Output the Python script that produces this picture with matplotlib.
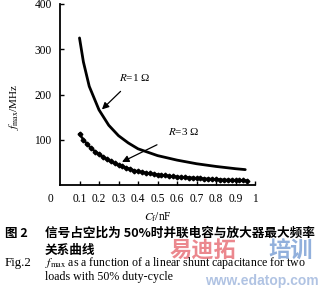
import matplotlib
matplotlib.use("Agg")
import matplotlib.pyplot as plt

plt.rcParams["mathtext.fontset"] = "stix"

# ---- data ----
c_r1 = [0.1, 0.12, 0.15, 0.2, 0.25, 0.3, 0.35, 0.4, 0.5, 0.6, 0.7, 0.8, 0.9, 0.95]
f_r1 = [325, 272, 218, 166, 132, 109, 93, 80, 65, 55, 47, 41, 36, 34]

c_r3 = [0.10, 0.12, 0.14, 0.16, 0.18, 0.20, 0.22, 0.24, 0.26, 0.28, 0.30,
        0.32, 0.34, 0.36, 0.38, 0.40, 0.42, 0.44, 0.46, 0.48, 0.50, 0.52,
        0.54, 0.56, 0.58, 0.60, 0.62, 0.64, 0.66, 0.68, 0.70, 0.72, 0.74,
        0.76, 0.78, 0.80, 0.82, 0.84, 0.86, 0.88, 0.90, 0.92, 0.94, 0.96]
f_r3 = [113, 100, 90, 81, 74, 68, 62, 57, 52, 48, 44,
        41, 38, 35, 32, 30, 28.5, 27, 25.5, 24, 23, 22,
        21, 20, 19, 18, 17.5, 17, 16.5, 16, 15, 14.5, 14,
        13.5, 13, 12.5, 12, 11.5, 11, 11, 10.5, 10, 10, 9.5]

x_ticks = [0.1, 0.2, 0.3, 0.4, 0.5, 0.6, 0.7, 0.8, 0.9, 1.0]
x_tick_labels = ["0.1", "0.2", "0.3", "0.4", "0.5", "0.6", "0.7", "0.8", "0.9", "1"]
y_ticks = [100, 200, 300, 400]
y_tick_labels = ["100", "200", "300", "400"]

serif = ["Liberation Serif", "DejaVu Serif"]
cjk = ["Noto Sans CJK SC", "DejaVu Sans"]

fig = plt.figure(figsize=(3.2, 2.95), dpi=100)
ax = fig.add_axes([60 / 320, 1 - 185 / 295, 195 / 320, 181 / 295])

ax.plot(c_r1, f_r1, color="black", lw=2.0, solid_capstyle="round")
ax.plot(c_r3, f_r3, color="black", lw=1.8, marker="D", markersize=2.4,
        markerfacecolor="black", markeredgecolor="black")

ax.set_xlim(0, 1)
ax.set_ylim(0, 400)
ax.set_xticks(x_ticks)
ax.set_xticklabels(x_tick_labels, family=serif, fontsize=8.3)
ax.set_yticks(y_ticks)
ax.set_yticklabels(y_tick_labels, family=serif, fontsize=8.3)
ax.tick_params(direction="in", length=3, width=1, pad=6)
for s in ["top", "right"]:
    ax.spines[s].set_visible(False)
for s in ["left", "bottom"]:
    ax.spines[s].set_linewidth(1.3)

ax.text(-0.05, -0.045, "0", transform=ax.transAxes, family=serif, fontsize=8.3,
        ha="center", va="top")

ax.set_ylabel(r"$f_{\rm max}$/MHz", family=serif, fontsize=8)
ax.yaxis.set_label_coords(-0.2, 0.43)
ax.set_xlabel(r"$C_{\rm f}$/nF", family=serif, fontsize=8.3, labelpad=4)

# annotations
ax.annotate(r"$R$=1 Ω", xy=(0.215, 167), xytext=(0.385, 238),
            family=serif, fontsize=8, ha="center", va="center",
            arrowprops=dict(arrowstyle="-|>", color="black", lw=0.9,
                            mutation_scale=10, shrinkA=6, shrinkB=0))
ax.annotate(r"$R$=3 Ω", xy=(0.318, 51), xytext=(0.635, 118),
            family=serif, fontsize=8, ha="center", va="center",
            arrowprops=dict(arrowstyle="-|>", color="black", lw=0.9,
                            mutation_scale=10, shrinkA=8, shrinkB=0))

# caption
fig.text(5 / 320, 1 - 233 / 295, "图 2", family=cjk, fontsize=9,
         fontweight="bold", va="center", ha="left")
fig.text(45 / 320, 1 - 233 / 295, "信号占空比为 50%时并联电容与放大器最大频率",
         family=cjk, fontsize=9.1, fontweight="bold", va="center", ha="left")
fig.text(45 / 320, 1 - 250 / 295, "关系曲线", family=cjk, fontsize=9.1,
         fontweight="bold", va="center", ha="left")

# watermark
fig.text(170 / 320, 1 - 251 / 295, "易迪拓", family=cjk, fontsize=16,
         fontweight="bold", color="#e8737a", alpha=0.85, va="center", ha="left")
fig.text(268 / 320, 1 - 251 / 295, "培训", family=cjk, fontsize=16,
         fontweight="bold", color="#7fa3d6", alpha=0.85, va="center", ha="left")
fig.text(205 / 320, 1 - 281 / 295, "www.edatop.com", family=["Liberation Sans"],
         fontsize=10, fontweight="bold", color="#a8bde0", alpha=0.9,
         va="center", ha="left")

fig.text(5 / 320, 1 - 263 / 295, "Fig.2", family=serif, fontsize=9.3,
         va="center", ha="left")
fig.text(45 / 320, 1 - 263 / 295,
         r"$f_{\rm max}$ as a function of a linear shunt capacitance for two",
         family=serif, fontsize=8.6, va="center", ha="left")
fig.text(45 / 320, 1 - 277 / 295, "loads with 50% duty-cycle",
         family=serif, fontsize=8.6, va="center", ha="left")

fig.savefig("out.png", dpi=100)
